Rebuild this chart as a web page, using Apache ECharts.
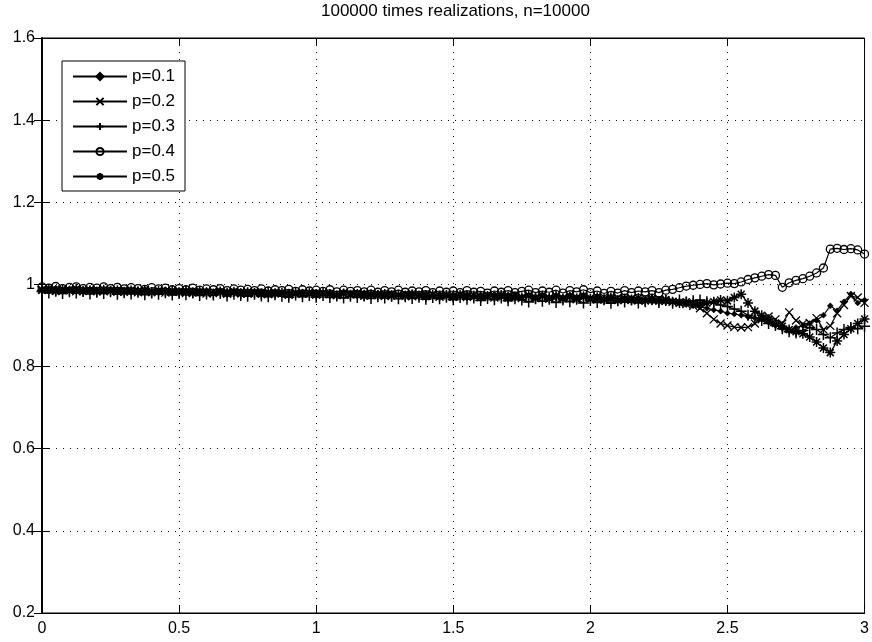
<!DOCTYPE html>
<html>
<head>
<meta charset="utf-8">
<script src="https://cdn.jsdelivr.net/npm/echarts@6/dist/echarts.min.js"></script>
<style>
html,body{margin:0;padding:0;background:#fff;}
#chart{width:872px;height:642px;}
</style>
</head>
<body>
<div id="chart"></div>
<script>
const titleText = '100000 times realizations, n=10000';
const seriesNames = ['p=0.1', 'p=0.2', 'p=0.3', 'p=0.4', 'p=0.5'];
const xTicks = [0, 0.5, 1, 1.5, 2, 2.5, 3];
const yTicks = [0.2, 0.4, 0.6, 0.8, 1, 1.2, 1.4, 1.6];

const xValues = [
0,0.025,0.05,0.075,0.1,0.125,0.15,0.175,0.2,0.225,
0.25,0.275,0.3,0.325,0.35,0.375,0.4,0.425,0.45,0.475,
0.5,0.525,0.55,0.575,0.6,0.625,0.65,0.675,0.7,0.725,
0.75,0.775,0.8,0.825,0.85,0.875,0.9,0.925,0.95,0.975,
1,1.025,1.05,1.075,1.1,1.125,1.15,1.175,1.2,1.225,
1.25,1.275,1.3,1.325,1.35,1.375,1.4,1.425,1.45,1.475,
1.5,1.525,1.55,1.575,1.6,1.625,1.65,1.675,1.7,1.725,
1.75,1.775,1.8,1.825,1.85,1.875,1.9,1.925,1.95,1.975,
2,2.025,2.05,2.075,2.1,2.125,2.15,2.175,2.2,2.225,
2.25,2.275,2.3,2.325,2.35,2.375,2.4,2.425,2.45,2.475,
2.5,2.525,2.55,2.575,2.6,2.625,2.65,2.675,2.7,2.725,
2.75,2.775,2.8,2.825,2.85,2.875,2.9,2.925,2.95,2.975,
3];

const p01 = [
0.989,0.986,0.991,0.985,0.988,0.990,0.984,0.988,0.986,0.985,
0.988,0.984,0.987,0.983,0.986,0.988,0.983,0.985,0.987,0.982,
0.985,0.986,0.981,0.985,0.984,0.980,0.985,0.982,0.982,0.984,
0.979,0.983,0.982,0.978,0.983,0.980,0.981,0.977,0.982,0.978,
0.981,0.977,0.980,0.976,0.981,0.979,0.975,0.980,0.976,0.979,
0.975,0.979,0.974,0.978,0.977,0.973,0.978,0.974,0.977,0.972,
0.976,0.973,0.977,0.971,0.975,0.972,0.976,0.970,0.975,0.971,
0.969,0.974,0.970,0.975,0.968,0.973,0.969,0.974,0.967,0.972,
0.966,0.971,0.964,0.969,0.962,0.967,0.960,0.966,0.963,0.958,
0.962,0.957,0.960,0.954,0.952,0.948,0.945,0.942,0.938,0.935,
0.930,0.928,0.925,0.921,0.918,0.915,0.908,0.900,0.893,0.888,
0.895,0.900,0.905,0.912,0.925,0.948,0.936,0.958,0.977,0.955,
0.962];

const p02 = [
0.987,0.991,0.985,0.989,0.986,0.983,0.988,0.985,0.988,0.983,
0.986,0.982,0.987,0.985,0.981,0.986,0.983,0.985,0.980,0.984,
0.983,0.979,0.984,0.982,0.978,0.983,0.981,0.977,0.982,0.980,
0.977,0.981,0.979,0.976,0.980,0.978,0.975,0.980,0.977,0.979,
0.975,0.979,0.977,0.974,0.978,0.976,0.979,0.973,0.977,0.975,
0.972,0.977,0.974,0.976,0.971,0.975,0.973,0.976,0.970,0.974,
0.971,0.975,0.969,0.974,0.970,0.973,0.968,0.972,0.969,0.974,
0.967,0.972,0.968,0.973,0.965,0.971,0.967,0.972,0.964,0.970,
0.967,0.963,0.969,0.964,0.968,0.962,0.966,0.961,0.966,0.962,
0.964,0.960,0.958,0.956,0.952,0.948,0.942,0.930,0.915,0.905,
0.900,0.896,0.895,0.896,0.905,0.915,0.922,0.915,0.905,0.932,
0.912,0.904,0.906,0.918,0.890,0.899,0.930,0.950,0.972,0.968,
0.955];

const p03 = [
0.983,0.979,0.984,0.978,0.982,0.979,0.983,0.977,0.981,0.978,
0.982,0.976,0.980,0.977,0.981,0.975,0.979,0.976,0.980,0.974,
0.978,0.975,0.979,0.973,0.977,0.974,0.978,0.972,0.976,0.973,
0.971,0.976,0.972,0.970,0.975,0.971,0.969,0.974,0.970,0.973,
0.969,0.973,0.968,0.972,0.967,0.971,0.968,0.972,0.966,0.970,
0.967,0.971,0.965,0.970,0.966,0.969,0.964,0.968,0.965,0.969,
0.963,0.968,0.964,0.967,0.961,0.966,0.963,0.967,0.960,0.965,
0.962,0.957,0.965,0.959,0.964,0.956,0.962,0.958,0.964,0.955,
0.961,0.956,0.963,0.954,0.960,0.957,0.962,0.955,0.958,0.963,
0.956,0.961,0.954,0.962,0.957,0.960,0.962,0.958,0.955,0.950,
0.946,0.940,0.935,0.925,0.918,0.912,0.905,0.900,0.892,0.885,
0.882,0.888,0.895,0.890,0.878,0.870,0.882,0.890,0.895,0.892,
0.898];

const p04 = [
0.994,0.991,0.995,0.990,0.993,0.994,0.990,0.993,0.991,0.994,
0.990,0.993,0.989,0.992,0.990,0.988,0.992,0.989,0.991,0.987,
0.990,0.987,0.991,0.986,0.989,0.987,0.990,0.985,0.989,0.986,
0.988,0.985,0.989,0.984,0.987,0.985,0.988,0.983,0.987,0.984,
0.986,0.983,0.987,0.982,0.986,0.983,0.985,0.982,0.986,0.981,
0.985,0.982,0.986,0.981,0.984,0.982,0.985,0.980,0.984,0.981,
0.984,0.980,0.985,0.981,0.983,0.979,0.984,0.981,0.985,0.980,
0.983,0.986,0.980,0.984,0.981,0.986,0.979,0.985,0.982,0.987,
0.980,0.984,0.978,0.983,0.979,0.985,0.980,0.984,0.982,0.985,
0.980,0.986,0.988,0.992,0.996,0.998,1.000,1.002,0.999,1.001,
1.003,1.002,1.006,1.012,1.016,1.020,1.024,1.022,0.993,1.004,
1.010,1.014,1.020,1.028,1.040,1.086,1.088,1.085,1.087,1.084,
1.074];

const p05 = [
0.986,0.989,0.983,0.987,0.985,0.989,0.983,0.986,0.982,0.987,
0.984,0.986,0.981,0.985,0.983,0.986,0.980,0.984,0.982,0.985,
0.981,0.984,0.979,0.983,0.981,0.978,0.983,0.980,0.982,0.977,
0.981,0.979,0.976,0.981,0.978,0.980,0.975,0.979,0.977,0.980,
0.976,0.979,0.977,0.973,0.978,0.975,0.977,0.972,0.976,0.974,
0.977,0.972,0.975,0.971,0.976,0.973,0.970,0.975,0.972,0.974,
0.969,0.974,0.971,0.973,0.968,0.972,0.970,0.974,0.967,0.971,
0.968,0.973,0.966,0.971,0.967,0.972,0.965,0.970,0.966,0.971,
0.965,0.969,0.963,0.968,0.961,0.966,0.962,0.967,0.960,0.966,
0.959,0.963,0.958,0.955,0.958,0.955,0.952,0.955,0.958,0.962,
0.960,0.968,0.976,0.955,0.935,0.925,0.915,0.905,0.898,0.890,
0.885,0.880,0.872,0.860,0.845,0.834,0.862,0.878,0.892,0.905,
0.916];

const seriesValues = [p01, p02, p03, p04, p05];

const FONT = '"Liberation Sans", Arial, Helvetica, sans-serif';
const markers = [
  { symbol: 'path://M5,0L10,5L5,10L0,5Z', size: 6, itemStyle: { color: '#000', borderColor: '#000', borderWidth: 0.5 } },
  { symbol: 'path://M0,0L10,10M10,0L0,10', size: 8, itemStyle: { color: '#000', borderColor: '#000', borderWidth: 1.3 } },
  { symbol: 'path://M5,0L5,10M0,5L10,5', size: 11, itemStyle: { color: '#000', borderColor: '#000', borderWidth: 1.5 } },
  { symbol: 'circle', size: 8, itemStyle: { color: 'rgba(0,0,0,0)', borderColor: '#000', borderWidth: 1.3 } },
  { symbol: 'path://M5,0L5,10M0,5L10,5M1.5,1.5L8.5,8.5M8.5,1.5L1.5,8.5', size: 10, itemStyle: { color: '#000', borderColor: '#000', borderWidth: 1.5 } }
];

const series = seriesNames.map((name, k) => ({
  name: name,
  type: 'line',
  xAxisIndex: 0,
  yAxisIndex: 0,
  data: xValues.map((x, i) => [x, seriesValues[k][i]]),
  symbol: markers[k].symbol,
  symbolSize: markers[k].size,
  showSymbol: true,
  showAllSymbol: true,
  itemStyle: markers[k].itemStyle,
  lineStyle: { color: '#000', width: 1.2 },
  emphasis: { disabled: true },
  z: 3 + k
}));

const gridLine = { show: true, lineStyle: { color: '#111', width: 1, type: [1, 6] } };
const axisLineStyle = { show: true, lineStyle: { color: '#000', width: 1 } };
const tickStyle = { show: true, inside: true, length: 8, lineStyle: { color: '#000', width: 1 } };

const chart = echarts.init(document.getElementById('chart'), null, { renderer: 'canvas' });
chart.setOption({
  animation: false,
  backgroundColor: '#fff',
  title: {
    text: titleText,
    left: 321,
    top: 3,
    padding: 0,
    textStyle: { fontFamily: FONT, fontSize: 17, fontWeight: 'normal', color: '#000' }
  },
  legend: {
    data: seriesNames,
    orient: 'vertical',
    left: 62,
    top: 61,
    padding: [7, 10, 6, 10],
    itemGap: 8,
    itemWidth: 54,
    itemHeight: 9,
    backgroundColor: '#fff',
    borderColor: '#000',
    borderWidth: 1,
    borderRadius: 0,
    selectedMode: false,
    textStyle: { fontFamily: FONT, fontSize: 17, color: '#000' }
  },
  grid: {
    left: 42, right: 6, top: 38, bottom: 29,
    show: true, borderColor: '#000', borderWidth: 1, backgroundColor: 'transparent'
  },
  xAxis: [
    {
      type: 'value', position: 'bottom', min: xTicks[0], max: xTicks[xTicks.length - 1], interval: 0.5,
      axisLine: axisLineStyle, axisTick: tickStyle, splitLine: gridLine,
      axisLabel: { color: '#000', fontFamily: FONT, fontSize: 16, margin: 8 }
    },
    {
      type: 'value', position: 'top', min: xTicks[0], max: xTicks[xTicks.length - 1], interval: 0.5,
      axisLine: axisLineStyle, axisTick: tickStyle, splitLine: { show: false },
      axisLabel: { show: false }
    }
  ],
  yAxis: [
    {
      type: 'value', position: 'left', min: yTicks[0], max: yTicks[yTicks.length - 1], interval: 0.2,
      axisLine: axisLineStyle, axisTick: tickStyle, splitLine: gridLine,
      axisLabel: { color: '#000', fontFamily: FONT, fontSize: 16, margin: 7 }
    },
    {
      type: 'value', position: 'right', min: yTicks[0], max: yTicks[yTicks.length - 1], interval: 0.2,
      axisLine: { show: true, lineStyle: { color: '#000', width: 2 } }, axisTick: tickStyle, splitLine: { show: false },
      axisLabel: { show: false }
    }
  ],
  series: series
});
</script>
</body>
</html>
